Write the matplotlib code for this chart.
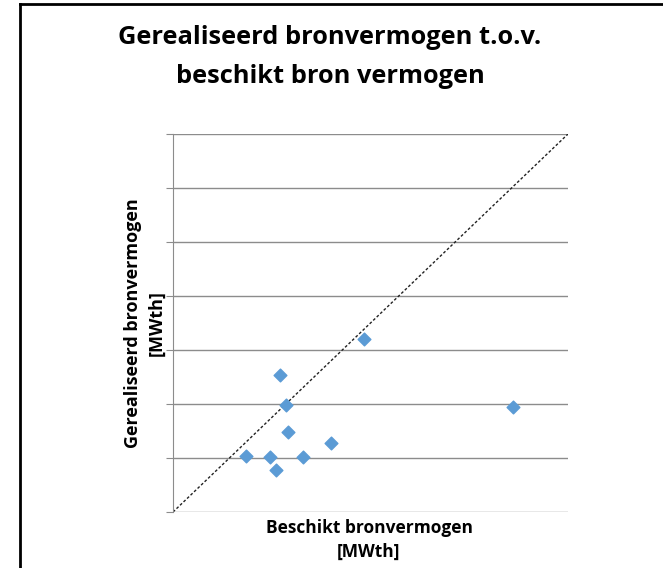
import matplotlib.pyplot as plt
from matplotlib.lines import Line2D

# Beschikt vs gerealiseerd bronvermogen (no units shown on axes)
beschikt = [1.29, 1.72, 1.82, 1.89, 2.01, 2.04, 2.31, 2.80, 3.39, 6.02]
gerealiseerd = [1.04, 1.01, 0.78, 2.53, 1.99, 1.48, 1.01, 1.27, 3.20, 1.95]
axis_max = 7

fig = plt.figure(figsize=(6.63, 5.68), dpi=100)
plt.rcParams['font.family'] = ['Open Sans', 'DejaVu Sans']

ax = fig.add_axes([173 / 663, 1 - 512 / 568, 395 / 663, 378 / 568])
ax.scatter(beschikt, gerealiseerd, marker='D', s=42, color='#5b9bd5', zorder=3)
ax.plot([0, axis_max], [0, axis_max], ls=(0, (2, 1.5)), color='#222222', lw=1.0, zorder=2)

ax.set_xlim(0, axis_max)
ax.set_ylim(0, axis_max)
ax.set_yticks(range(0, axis_max + 1))
ax.set_yticklabels([])
ax.set_xticks([])
ax.grid(axis='y', color='#8c8c8c', lw=1.0)
ax.tick_params(axis='y', length=5, color='#8c8c8c', direction='out')
for s in ['top', 'right', 'bottom']:
    ax.spines[s].set_visible(False)
ax.spines['left'].set_color('#8c8c8c')

fig.text(369 / 663, 1 - 540 / 568, 'Beschikt bronvermogen\n[MWth]', ha='center', va='center',
         fontsize=12.5, fontweight='bold', linespacing=1.45, multialignment='center')
fig.text(145 / 663, 1 - 323 / 568, 'Gerealiseerd bronvermogen\n[MWth]', ha='center', va='center',
         rotation=90, fontsize=13, fontweight='bold', linespacing=1.4, multialignment='center')

fig.text(330 / 663, 1 - 57 / 568, 'Gerealiseerd bronvermogen t.o.v.\nbeschikt bron vermogen',
         ha='center', va='center', fontsize=18.3, fontweight='bold', linespacing=1.75)

# frame around the chart (right and bottom fall outside the picture)
fig.add_artist(Line2D([20 / 663, 20 / 663], [0, 1 - 4 / 568], color='black', lw=2.0,
                      transform=fig.transFigure))
fig.add_artist(Line2D([20 / 663, 1], [1 - 4 / 568, 1 - 4 / 568], color='black', lw=2.0,
                      transform=fig.transFigure))

fig.savefig('out.png', dpi=100)
